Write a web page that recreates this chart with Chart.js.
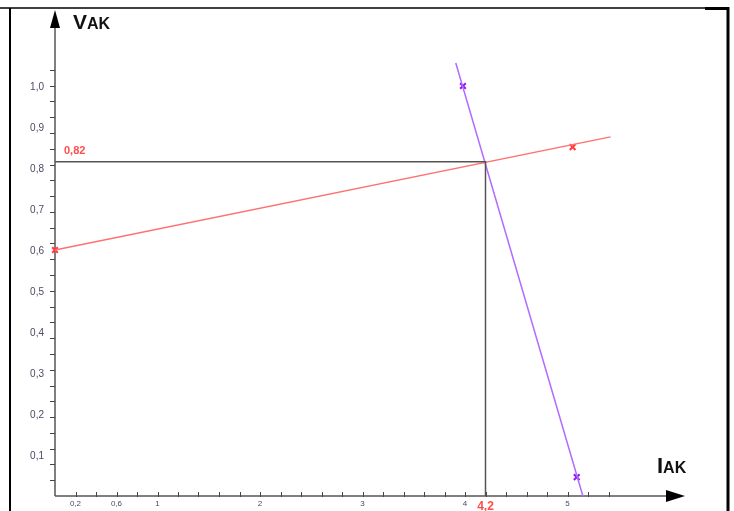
<!DOCTYPE html>
<html>
<head>
<meta charset="utf-8">
<script src="https://cdn.jsdelivr.net/npm/chart.js@4/dist/chart.umd.min.js"></script>
<style>
  body { margin: 0; background: #fff; }
  #wrap { width: 734px; height: 511px; position: relative; }
</style>
</head>
<body>
<div id="wrap"><canvas id="graf" width="734" height="511"></canvas></div>
<script>
// dati
var redLineX = [0, 5.42];
var redLineY = [0.6, 0.876];
var redMarkX = [0, 5.05];
var redMarkY = [0.6, 0.851];
var purpleLineX = [3.91, 5.15];
var purpleLineY = [1.056, 0];
var purpleMarkX = [3.98, 5.09];
var purpleMarkY = [1.0, 0.046];
var guideX = [0, 4.2, 4.2];
var guideY = [0.815, 0.815, 0];

var xTickLabels = [0.2, 0.6, 1, 2, 3, 4, 5];
var yTickLabels = [0.1, 0.2, 0.3, 0.4, 0.5, 0.6, 0.7, 0.8, 0.9, 1.0];
var xMinorStep = 0.2;
var xMinorMax = 5.4;
var yMinorStep = 0.0385;
var yMinorMax = 1.06;
var cutX = 4.2;
var cutY = 0.82;

function toPoints(xs, ys) {
    var out = [];
    for (var i = 0; i < xs.length; i++) out.push({x: xs[i], y: ys[i]});
    return out;
}
function virgola(v, dec) {
    return v.toFixed(dec).replace('.', ',');
}

var assiPlugin = {
    id: 'assi',
    beforeDatasetsDraw: function(chart) {
        var c = chart.ctx;
        var sx = chart.scales.x, sy = chart.scales.y;
        var x0 = sx.getPixelForValue(0), y0 = sy.getPixelForValue(0);
        c.save();
        // cornice
        c.strokeStyle = '#000';
        c.lineWidth = 1.5;
        c.beginPath(); c.moveTo(0, 8); c.lineTo(729, 8); c.stroke();
        c.lineWidth = 3;
        c.beginPath(); c.moveTo(705, 8.5); c.lineTo(729, 8.5); c.stroke();
        c.lineWidth = 2;
        c.beginPath(); c.moveTo(10, 8); c.lineTo(10, 511); c.stroke();
        c.lineWidth = 3;
        c.beginPath(); c.moveTo(728, 7); c.lineTo(728, 511); c.stroke();

        // assi
        c.strokeStyle = '#555';
        c.lineWidth = 1.5;
        c.beginPath(); c.moveTo(x0, y0); c.lineTo(x0, 24); c.stroke();
        c.beginPath(); c.moveTo(x0, y0); c.lineTo(670, y0); c.stroke();
        c.fillStyle = '#000';
        c.beginPath(); c.moveTo(x0, 10); c.lineTo(x0 - 5, 28); c.lineTo(x0 + 5, 28); c.closePath(); c.fill();
        c.beginPath(); c.moveTo(685, y0); c.lineTo(666, y0 - 6); c.lineTo(666, y0 + 6); c.closePath(); c.fill();

        // tacche
        c.lineWidth = 1;
        c.strokeStyle = '#444';
        for (var v = yMinorStep; v <= yMinorMax; v += yMinorStep) {
            var py = Math.round(sy.getPixelForValue(v)) + 0.5;
            c.beginPath(); c.moveTo(x0 - 5, py); c.lineTo(x0, py); c.stroke();
        }
        for (var u = xMinorStep; u <= xMinorMax + 0.001; u += xMinorStep) {
            var px = Math.round(sx.getPixelForValue(u)) + 0.5;
            c.beginPath(); c.moveTo(px, y0 - 4); c.lineTo(px, y0 + 1); c.stroke();
        }

        // etichette
        c.fillStyle = '#4a4a66';
        c.font = '10px "Liberation Sans", Arial, sans-serif';
        c.textAlign = 'right';
        c.textBaseline = 'middle';
        yTickLabels.forEach(function(v) {
            c.fillText(virgola(v, 1), 44, sy.getPixelForValue(v) + 1);
        });
        c.font = '8px "Liberation Sans", Arial, sans-serif';
        c.textAlign = 'center';
        c.textBaseline = 'top';
        xTickLabels.forEach(function(v) {
            var t = v < 1 ? virgola(v, 1) : String(v);
            c.fillText(t, sx.getPixelForValue(v), y0 + 4);
        });

        c.fillStyle = '#ff4d4d';
        c.font = 'bold 12px "Liberation Sans", Arial, sans-serif';
        c.fillText(virgola(cutX, 1), sx.getPixelForValue(cutX), y0 + 5);
        c.font = 'bold 11px "Liberation Sans", Arial, sans-serif';
        c.textAlign = 'left';
        c.textBaseline = 'alphabetic';
        c.fillText(virgola(cutY, 2), 64, 154);

        // titoli assi
        c.fillStyle = '#111';
        c.font = 'bold 21px "Liberation Sans", Arial, sans-serif';
        c.fillText('V', 73, 29);
        var w = c.measureText('V').width;
        c.font = 'bold 16px "Liberation Sans", Arial, sans-serif';
        c.fillText('AK', 73 + w, 29);
        c.font = 'bold 22px "Liberation Sans", Arial, sans-serif';
        c.fillText('I', 657, 473);
        w = c.measureText('I').width;
        c.font = 'bold 16px "Liberation Sans", Arial, sans-serif';
        c.fillText('AK', 657 + w, 473);
        c.restore();
    }
};

var ctx = document.getElementById('graf');
var config = {
    type: 'scatter',
    data: {
        datasets: [
            {
                data: toPoints(guideX, guideY),
                showLine: true, borderColor: '#555', borderWidth: 1.5,
                pointRadius: 0, clip: false
            },
            {
                data: toPoints(redLineX, redLineY),
                showLine: true, borderColor: '#ff7070', borderWidth: 1.3,
                pointRadius: 0, clip: false
            },
            {
                data: toPoints(purpleLineX, purpleLineY),
                showLine: true, borderColor: '#b36bff', borderWidth: 1.5,
                pointRadius: 0, clip: false
            },
            {
                data: toPoints(redMarkX, redMarkY),
                pointStyle: 'crossRot', pointRadius: 4, pointBorderWidth: 2,
                borderColor: '#ff3b3b', clip: false
            },
            {
                data: toPoints(purpleMarkX, purpleMarkY),
                pointStyle: 'crossRot', pointRadius: 4, pointBorderWidth: 2,
                borderColor: '#9414f0', clip: false
            }
        ]
    },
    options: {
        responsive: false,
        animation: false,
        events: [],
        layout: { padding: { left: 55, right: 64, top: 24.5, bottom: 15 } },
        scales: {
            x: { type: 'linear', min: 0, max: 6, display: false },
            y: { type: 'linear', min: 0, max: 1.15, display: false }
        },
        plugins: {
            legend: { display: false },
            tooltip: { enabled: false }
        }
    },
    plugins: [assiPlugin]
};
window.myChart = new Chart(ctx, config);
</script>
</body>
</html>
